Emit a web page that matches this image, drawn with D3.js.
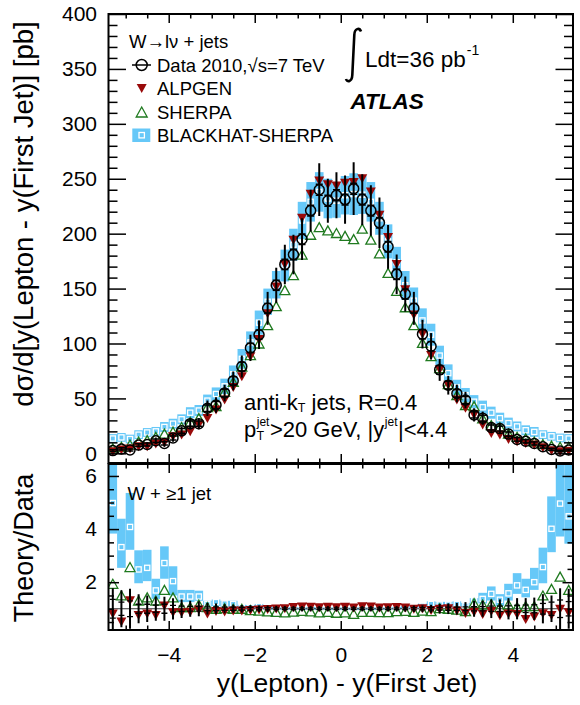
<!DOCTYPE html>
<html><head><meta charset="utf-8">
<script src="https://cdn.jsdelivr.net/npm/d3@7"></script>
<style>
body{margin:0;background:#fff;}
text{font-family:"Liberation Sans",Arial,Helvetica,sans-serif;fill:#000;white-space:pre;}
</style></head>
<body><svg id="c" width="580" height="705"></svg>
<script>
// ---------------- data ----------------
const binCenters = [-5.3,-5.1,-4.9,-4.7,-4.5,-4.3,-4.1,-3.9,-3.7,-3.5,-3.3,-3.1,-2.9,-2.7,-2.5,-2.3,-2.1,-1.9,-1.7,
  -1.5,-1.3,-1.1,-0.9,-0.7,-0.5,-0.3,-0.1,0.1,0.3,0.5,0.7,0.9,1.1,1.3,1.5,
  1.7,1.9,2.1,2.3,2.5,2.7,2.9,3.1,3.3,3.5,3.7,3.9,4.1,4.3,4.5,4.7,4.9,5.1,5.3];
const binWidth = 0.2;

const dataVal = [2.5,4,3,7.5,8,11.5,9,14,20.5,27,27,41,44,55,66,79,96,108,132,
  153,172,181,195,221,240,230,235,231,241,231,221,210,188,163,145,
  132,108.5,97.5,76,62,54.5,48.5,35,32,23.5,22.5,17.5,12.7,11,9,6,3.6,2.1,3];
const dataTotErr = [1.5,1.5,1.5,2,2,3,3,3.5,4,5,5,7,7,7.5,8.5,10,12,13,15,
  16,18,18,19,19,24,20,21,22,24,23,23,23,20,18,16,
  15,13,12,10,8.5,8,7.5,6,6,4.5,4.5,3.5,3,2.5,2,1.5,1.5,1,1];
const dataStatErr = [0.8,1,0.9,1.3,1.4,1.6,1.5,1.8,2.1,2.4,2.4,3,3.1,3.4,3.7,4,4.2,4.3,4.5,
  4.6,4.7,4.8,4.8,4.9,5,5,5,5,5,5,4.9,4.8,4.8,4.7,4.6,
  4.5,4.3,4.2,4,3.7,3.4,3.2,2.8,2.7,2.3,2.2,1.9,1.6,1.5,1.4,1.2,0.9,0.7,0.8];

const alpgenVal = [1.5,3,4,6,6,8.5,9.7,15,16.6,19.7,25.7,31.8,39.4,48.5,60,69.7,88,103.7,127,
  151.5,172,194,214,236,248,244.5,243.5,246,246.5,250,238,216.7,196.5,172,149,
  126,108.5,89,76,62,48.5,41,35,25.7,18,16.6,12.7,10.5,9,7.5,5,2.4,1.5,2];
const sherpaVal = [4.5,6,8,10.6,12,15,18,19.7,24,28.7,32,42,43,56,65,79,89.5,100,116.7,
  134,148.6,162.3,181,199,206,203,200.6,198,195,204.6,194.6,182,164.3,148,133,
  116.7,100.6,88.5,77.6,63,53,44,43,31.8,25.7,24,18,15,13.6,10.6,8.5,7,6,6];
const blackhatVal = [13.5,14.5,13,17,19,20,24,27,31,37,39,48,54,61,72,86,101,119,138,
  153.5,171,190,212,229,238,232,230,235,236,235.5,229,214,193,174,153,
  139,121,108,89,73,60,53,47,42,37,32,27.5,24.5,21,19.5,17,15.5,14,13.5];
const blackhatErr = [4,4,4,4,4,4,4.5,4.5,4.5,5,5,5.5,6,7,8,9,10,11,12,
  12.5,14.5,14.5,17,18,18,18,15.5,17.5,19,17.5,18,15,15.5,14,13,
  12,11,10,9,8,7,6.5,6,6,5.5,5,5,4.5,4.5,4.5,4,4,4,4];

// ratio panel (Theory/Data)
const ratioDataErr = [0.77,0.7,0.75,0.55,0.5,0.45,0.45,0.4,0.35,0.3,0.28,0.22,0.2,0.17,0.15,0.14,0.13,0.12,0.12,
  0.11,0.1,0.1,0.1,0.1,0.1,0.1,0.1,0.1,0.1,0.1,0.1,0.1,0.1,0.1,0.11,
  0.12,0.13,0.15,0.18,0.2,0.22,0.25,0.3,0.3,0.35,0.35,0.4,0.4,0.4,0.42,0.55,0.5,0.77,0.75];
const ratioDataStat = [0.35,0.25,0.3,0.17,0.17,0.14,0.17,0.13,0.1,0.09,0.09,0.07,0.07,0.06,0.06,0.05,0.05,0.04,0.04,
  0.03,0.03,0.03,0.03,0.03,0.03,0.03,0.03,0.03,0.03,0.03,0.03,0.03,0.03,0.03,0.03,
  0.04,0.04,0.05,0.05,0.06,0.06,0.07,0.08,0.08,0.1,0.1,0.11,0.13,0.14,0.15,0.2,0.25,0.33,0.27];
const ratioAlpgen = [0.8,0.5,1.3,0.75,0.8,0.75,1.1,0.85,0.85,0.87,0.95,0.8,0.9,0.88,0.92,0.92,0.93,0.95,0.97,
  0.99,1.0,1.05,1.07,1.06,1.04,1.06,1.04,1.06,1.03,1.08,1.07,1.03,1.04,1.05,1.03,
  0.98,1.0,0.93,0.98,1.0,0.92,0.82,0.87,0.78,0.9,0.74,0.8,0.78,0.6,0.69,0.81,0.75,0.98,0.85];
const ratioSherpa = [1.94,1.5,2.57,1.31,1.43,1.31,1.71,1.43,1.06,1.06,1.16,1.06,1.0,1.02,1.0,1.0,0.95,0.93,0.9,
  0.88,0.86,0.89,0.92,0.9,0.86,0.88,0.85,0.86,0.81,0.88,0.88,0.87,0.87,0.91,0.92,
  0.88,0.93,0.91,1.02,1.0,0.97,0.91,1.21,1.16,1.18,1.06,1.16,1.06,1.1,1.1,1.5,1.75,2.21,1.71];
const ratioBlackhat = [4.98,3.32,4.08,2.48,2.54,1.69,2.72,2.04,1.46,1.46,1.46,1.18,1.25,1.2,1.18,1.06,1.06,1.1,1.05,
  1.02,1.0,1.02,1.0,1.02,1.0,1.0,1.0,1.0,1.0,1.0,1.0,1.0,1.0,1.02,1.05,
  1.06,1.12,1.18,1.16,1.16,1.18,1.12,1.31,1.37,1.56,1.34,1.58,1.88,1.71,2.0,2.57,4.01,4.96,4.48];
const ratioBlackhatLo = [3.83,2.54,3.22,1.96,2.04,1.37,2.13,1.5,1.25,1.25,1.3,1.08,1.1,1.08,1.06,0.98,0.97,1.0,0.96,
  0.97,0.95,0.97,0.95,0.97,0.95,0.95,0.95,0.95,0.95,0.95,0.95,0.95,0.95,0.97,0.99,
  0.98,1.04,1.08,1.06,1.06,1.08,1.04,1.2,1.2,1.31,1.1,1.31,1.56,1.43,1.71,1.96,3.13,3.72,3.45];
const ratioBlackhatHi = [6.6,4.39,5.36,3.2,3.22,2.13,3.35,2.6,1.71,1.71,1.68,1.3,1.35,1.3,1.3,1.15,1.14,1.18,1.13,
  1.07,1.05,1.07,1.05,1.07,1.05,1.05,1.05,1.05,1.05,1.05,1.05,1.05,1.05,1.07,1.1,
  1.14,1.2,1.28,1.26,1.26,1.28,1.22,1.4,1.6,1.84,1.55,1.94,2.34,2.13,2.54,3.3,5.23,6.6,6.6];

const topYTicks = [0,50,100,150,200,250,300,350,400];
const botYTicks = [2,4,6];
const xTicks = [-4,-2,0,2,4];

// ---------------- layout ----------------
const svg = d3.select("#c");
const L = 108.5, R = 573;
const topT = 14, topB = 463, botT = 464, botB = 630;
const x = d3.scaleLinear().domain([-5.4, 5.4]).range([L, R]);
const yTop = d3.scaleLinear().domain([-8.8, 400]).range([topB, topT]);
const yBot = d3.scaleLinear().domain([0.2, 6.45]).range([botB, botT]);

const BLUE = "#66c8f8", RED = "#990a0a", GREEN = "#1f7a1f";
const FONT = '"Liberation Sans",Arial,Helvetica,sans-serif';

const defs = svg.append("defs");
defs.append("clipPath").attr("id","clipTop").append("rect").attr("x",L).attr("y",topT).attr("width",R-L).attr("height",topB-topT);
defs.append("clipPath").attr("id","clipBot").append("rect").attr("x",L).attr("y",botT).attr("width",R-L).attr("height",botB-botT);

const idx = d3.range(binCenters.length);
const hw = x(binWidth/2) - x(0);

function triDown(cx, cy, w, h){ return `M${cx-w/2},${cy-h/2}L${cx+w/2},${cy-h/2}L${cx},${cy+h/2}Z`; }
function triUp(cx, cy, w, h){ return `M${cx-w/2},${cy+h/2}L${cx+w/2},${cy+h/2}L${cx},${cy-h/2}Z`; }

// ---------------- top panel ----------------
const gT = svg.append("g").attr("clip-path","url(#clipTop)");
gT.selectAll("rect.bh").data(idx).join("rect")
  .attr("x", i => x(binCenters[i]) - hw).attr("width", 2*hw)
  .attr("y", i => yTop(blackhatVal[i] + blackhatErr[i]))
  .attr("height", i => yTop(blackhatVal[i] - blackhatErr[i]) - yTop(blackhatVal[i] + blackhatErr[i]))
  .attr("fill", BLUE);
gT.selectAll("rect.bhm").data(idx).join("rect")
  .attr("x", i => x(binCenters[i]) - 2.6).attr("y", i => yTop(blackhatVal[i]) - 2.6)
  .attr("width", 5.2).attr("height", 5.2).attr("fill","none").attr("stroke","#fff").attr("stroke-width",1.3);
gT.selectAll("path.sh").data(idx).join("path")
  .attr("d", i => triUp(x(binCenters[i]), yTop(sherpaVal[i]), 10, 9))
  .attr("fill","none").attr("stroke",GREEN).attr("stroke-width",1.3);
gT.selectAll("path.al").data(idx).join("path")
  .attr("d", i => triDown(x(binCenters[i]), yTop(alpgenVal[i]), 10, 9))
  .attr("fill",RED);
gT.selectAll("line.err").data(idx).join("line")
  .attr("x1", i => x(binCenters[i])).attr("x2", i => x(binCenters[i]))
  .attr("y1", i => yTop(dataVal[i] - dataTotErr[i])).attr("y2", i => yTop(dataVal[i] + dataTotErr[i]))
  .attr("stroke","#000").attr("stroke-width",2);
[-1,1].forEach(s => {
  gT.selectAll("line.st"+s).data(idx).join("line")
    .attr("x1", i => x(binCenters[i]) - 3.5).attr("x2", i => x(binCenters[i]) + 3.5)
    .attr("y1", i => yTop(dataVal[i] + s*dataStatErr[i])).attr("y2", i => yTop(dataVal[i] + s*dataStatErr[i]))
    .attr("stroke","#000").attr("stroke-width",1.5);
});
gT.selectAll("circle.d").data(idx).join("circle")
  .attr("cx", i => x(binCenters[i])).attr("cy", i => yTop(dataVal[i])).attr("r",5)
  .attr("fill","none").attr("stroke","#000").attr("stroke-width",1.5);

// ---------------- bottom panel ----------------
const gB = svg.append("g").attr("clip-path","url(#clipBot)");
gB.selectAll("rect.bh").data(idx).join("rect")
  .attr("x", i => x(binCenters[i]) - hw).attr("width", 2*hw)
  .attr("y", i => yBot(ratioBlackhatHi[i]))
  .attr("height", i => yBot(ratioBlackhatLo[i]) - yBot(ratioBlackhatHi[i]))
  .attr("fill", BLUE);
gB.append("line").attr("x1",L).attr("x2",R).attr("y1",yBot(1)).attr("y2",yBot(1)).attr("stroke","#333").attr("stroke-width",1);
gB.selectAll("rect.bhm").data(idx).join("rect")
  .attr("x", i => x(binCenters[i]) - 2.6).attr("y", i => yBot(ratioBlackhat[i]) - 2.6)
  .attr("width", 5.2).attr("height", 5.2).attr("fill","none").attr("stroke","#fff").attr("stroke-width",1.3);
gB.selectAll("path.sh").data(idx).join("path")
  .attr("d", i => triUp(x(binCenters[i]), yBot(ratioSherpa[i]), 10, 9))
  .attr("fill","none").attr("stroke",GREEN).attr("stroke-width",1.3);
gB.selectAll("path.al").data(idx).join("path")
  .attr("d", i => triDown(x(binCenters[i]), yBot(ratioAlpgen[i]), 10, 9))
  .attr("fill",RED);
gB.selectAll("line.err").data(idx).join("line")
  .attr("x1", i => x(binCenters[i])).attr("x2", i => x(binCenters[i]))
  .attr("y1", i => yBot(1 - ratioDataErr[i])).attr("y2", i => yBot(1 + ratioDataErr[i]))
  .attr("stroke","#000").attr("stroke-width",2);
[-1,1].forEach(s => {
  gB.selectAll("line.st"+s).data(idx).join("line")
    .attr("x1", i => x(binCenters[i]) - 3).attr("x2", i => x(binCenters[i]) + 3)
    .attr("y1", i => yBot(1 + s*ratioDataStat[i])).attr("y2", i => yBot(1 + s*ratioDataStat[i]))
    .attr("stroke","#000").attr("stroke-width",1.3);
});

// ---------------- axes ----------------
function styleAxis(g, labels, fs){
  g.select(".domain").remove();
  g.selectAll(".tick line").attr("stroke","#000").attr("stroke-width",1.5);
  g.selectAll("text").attr("font-family",FONT).attr("font-size",fs).attr("fill","#000");
  if(!labels) g.selectAll("text").remove();
}
const xMinor = [-5,-4.5,-3.5,-3,-2.5,-1.5,-1,-0.5,0.5,1,1.5,2.5,3,3.5,4.5,5];
const topMinor = d3.range(10,400,10).filter(v => v % 50 !== 0);
const botMinor = [0.5,1,1.5,2.5,3,3.5,4.5,5,5.5];

// top panel
svg.append("g").attr("transform",`translate(${L},0)`)
  .call(d3.axisLeft(yTop).tickValues(topYTicks).tickSize(-17.5).tickPadding(11.5).tickFormat(d3.format("d")))
  .call(g => styleAxis(g, true, 21));
svg.append("g").attr("transform",`translate(${L},0)`)
  .call(d3.axisLeft(yTop).tickValues(topMinor).tickSize(-9)).call(g => styleAxis(g,false));
svg.append("g").attr("transform",`translate(${R},0)`)
  .call(d3.axisRight(yTop).tickValues(topYTicks).tickSize(-17.5)).call(g => styleAxis(g,false));
svg.append("g").attr("transform",`translate(${R},0)`)
  .call(d3.axisRight(yTop).tickValues(topMinor).tickSize(-9)).call(g => styleAxis(g,false));
[[topB, d3.axisBottom],[topT, d3.axisTop]].forEach(([yy, ax]) => {
  svg.append("g").attr("transform",`translate(0,${yy})`).call(ax(x).tickValues(xTicks).tickSize(-9)).call(g => styleAxis(g,false));
  svg.append("g").attr("transform",`translate(0,${yy})`).call(ax(x).tickValues(xMinor).tickSize(-4.5)).call(g => styleAxis(g,false));
});
// bottom panel
svg.append("g").attr("transform",`translate(${L},0)`)
  .call(d3.axisLeft(yBot).tickValues(botYTicks).tickSize(-10.5).tickPadding(11.5).tickFormat(d3.format("d")))
  .call(g => styleAxis(g, true, 21));
svg.append("g").attr("transform",`translate(${L},0)`)
  .call(d3.axisLeft(yBot).tickValues(botMinor).tickSize(-5.5)).call(g => styleAxis(g,false));
svg.append("g").attr("transform",`translate(${R},0)`)
  .call(d3.axisRight(yBot).tickValues(botYTicks).tickSize(-10.5)).call(g => styleAxis(g,false));
svg.append("g").attr("transform",`translate(${R},0)`)
  .call(d3.axisRight(yBot).tickValues(botMinor).tickSize(-5.5)).call(g => styleAxis(g,false));
svg.append("g").attr("transform",`translate(0,${botB})`)
  .call(d3.axisBottom(x).tickValues(xTicks).tickSize(-9).tickPadding(17).tickFormat(d3.format("d")))
  .call(g => styleAxis(g, true, 21));
svg.append("g").attr("transform",`translate(0,${botB})`)
  .call(d3.axisBottom(x).tickValues(xMinor).tickSize(-4.5)).call(g => styleAxis(g,false));
svg.append("g").attr("transform",`translate(0,${botT})`)
  .call(d3.axisTop(x).tickValues(xTicks).tickSize(-9)).call(g => styleAxis(g,false));
svg.append("g").attr("transform",`translate(0,${botT})`)
  .call(d3.axisTop(x).tickValues(xMinor).tickSize(-4.5)).call(g => styleAxis(g,false));

// frames
svg.append("rect").attr("x",L).attr("y",topT).attr("width",R-L).attr("height",topB-topT).attr("fill","none").attr("stroke","#000").attr("stroke-width",2);
svg.append("rect").attr("x",L).attr("y",botT).attr("width",R-L).attr("height",botB-botT).attr("fill","none").attr("stroke","#000").attr("stroke-width",2);

// ---------------- titles ----------------
svg.append("text").attr("transform","translate(33,214) rotate(-90)").attr("text-anchor","middle")
  .attr("font-size",27.5).text("dσ/d[y(Lepton - y(First Jet)] [pb]");
svg.append("text").attr("transform","translate(33,548) rotate(-90)").attr("text-anchor","middle")
  .attr("font-size",27).text("Theory/Data");
svg.append("text").attr("x",347).attr("y",692).attr("text-anchor","middle")
  .attr("font-size",26.5).text("y(Lepton) - y(First Jet)");

// legend
svg.append("text").attr("x",129).attr("y",48).attr("font-size",18.5).text("W→lν + jets");
svg.append("line").attr("x1",132).attr("x2",151).attr("y1",65).attr("y2",65).attr("stroke","#000").attr("stroke-width",1.5);
svg.append("circle").attr("cx",141.7).attr("cy",65).attr("r",5.5).attr("fill","none").attr("stroke","#000").attr("stroke-width",1.5);
svg.append("text").attr("x",157).attr("y",72).attr("font-size",18.5).text("Data 2010,√s=7 TeV");
svg.append("path").attr("d",triDown(141.7,88.5,10,9)).attr("fill",RED);
svg.append("text").attr("x",157).attr("y",95).attr("font-size",18.5).text("ALPGEN");
svg.append("path").attr("d",triUp(141.7,112,11,10)).attr("fill","none").attr("stroke",GREEN).attr("stroke-width",1.3);
svg.append("text").attr("x",157).attr("y",118.5).attr("font-size",18.5).text("SHERPA");
svg.append("rect").attr("x",132.3).attr("y",128.5).attr("width",18).attr("height",13.5).attr("fill",BLUE);
svg.append("rect").attr("x",139).attr("y",132.5).attr("width",5.4).attr("height",5.4).attr("fill","none").attr("stroke","#fff").attr("stroke-width",1.3);
svg.append("text").attr("x",157).attr("y",141.5).attr("font-size",18.5).text("BLACKHAT-SHERPA");

// luminosity + ATLAS
svg.append("path").attr("d","M361,31.5 C359.5,27.5 354.5,28 354.3,35 L352.3,75 C352,82 347,82.5 346,79")
  .attr("fill","none").attr("stroke","#000").attr("stroke-width",2.6);
const lum = svg.append("text").attr("x",365).attr("y",67).attr("font-size",22.5);
lum.append("tspan").text("Ldt=36 pb");
lum.append("tspan").attr("dx",1).attr("dy",-12).attr("font-size",14).text("-1");
svg.append("text").attr("x",350.5).attr("y",109).attr("font-size",22.5).attr("font-weight","bold").attr("font-style","italic").text("ATLAS");

// jet annotation: one text element, two lines with sub/superscripts as tspans
const ann = svg.append("text").attr("x",244).attr("y",410).attr("font-size",22);
ann.append("tspan").text("anti-k");
ann.append("tspan").attr("dy",2).attr("font-size",12.5).text("T");
ann.append("tspan").attr("dy",-2).text(" jets, R=0.4");
ann.append("tspan").attr("x",244).attr("dy",26.5).text("p");
const tSub = ann.append("tspan").attr("dx",0.5).attr("dy",3.5).attr("font-size",12).text("T");
const tW = tSub.node().getComputedTextLength();
ann.append("tspan").attr("dx",-tW).attr("dy",-14).attr("font-size",12).text("jet");
ann.append("tspan").attr("dx",0.5).attr("dy",10.5).text(">20 GeV, |y");
ann.append("tspan").attr("dx",0.5).attr("dy",-10.5).attr("font-size",12).text("jet");
ann.append("tspan").attr("dx",0.5).attr("dy",10.5).text("|<4.4");

svg.append("text").attr("x",127.5).attr("y",499.5).attr("font-size",18.5).text("W + ≥1 jet");
</script></body></html>
